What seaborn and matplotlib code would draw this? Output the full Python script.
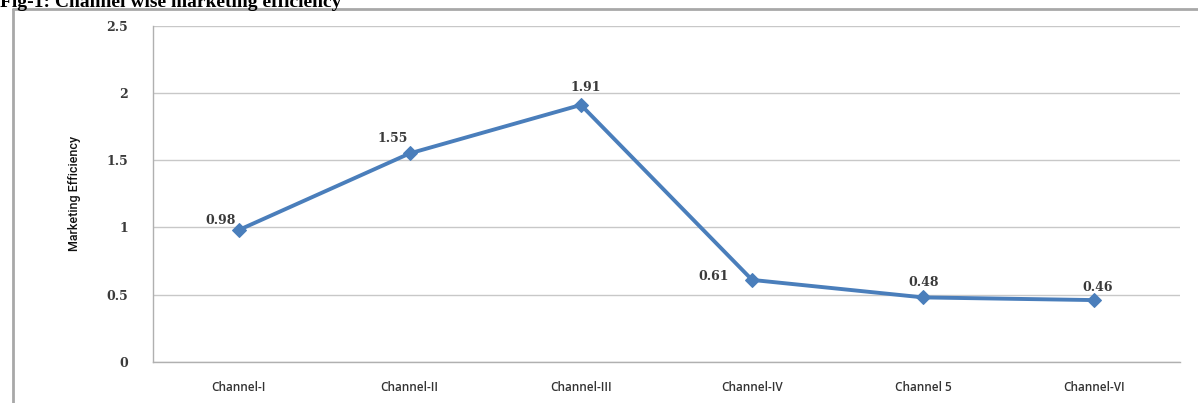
import matplotlib
matplotlib.use("Agg")
import matplotlib.pyplot as plt
from matplotlib.lines import Line2D
import seaborn as sns
import pandas as pd

# Channel-wise marketing efficiency
channels = ["Channel-I", "Channel-II", "Channel-III", "Channel-IV", "Channel 5", "Channel-VI"]
efficiency = [0.98, 1.55, 1.91, 0.61, 0.48, 0.46]
value_labels = ["0.98", "1.55", "1.91", "0.61", "0.48", "0.46"]
y_ticks = [0, 0.5, 1, 1.5, 2, 2.5]
y_tick_labels = ["0", "0.5", "1", "1.5", "2", "2.5"]

df = pd.DataFrame({"Channel": channels, "Efficiency": efficiency})

sns.set_theme(style="white")
plt.rcParams["font.family"] = ["DejaVu Sans"]

fig = plt.figure(figsize=(11.98, 4.03), dpi=100)
ax = fig.add_axes([0.1277, 0.1017, 0.8573, 0.835])

sns.lineplot(data=df, x="Channel", y="Efficiency", ax=ax, color="#4A7EBB",
             linewidth=2.8, marker="D", markersize=7, markeredgecolor="#4A7EBB",
             sort=False)

ax.set_ylim(0, 2.5)
ax.set_xlim(-0.5, 5.5)
ax.set_yticks(y_ticks)
ax.set_yticklabels(y_tick_labels, family="DejaVu Serif", fontsize=9, color="#3a3a3a",
                   fontweight="semibold")
ax.set_xticks(range(len(channels)))
ax.set_xticklabels(channels, family="Open Sans", fontsize=8.5, color="#333333",
                   fontweight="semibold")
ax.tick_params(axis="y", pad=18, length=0)
ax.tick_params(axis="x", pad=14, length=0)

ax.yaxis.grid(True, color="#c8c8c8", linewidth=1.0)
ax.set_axisbelow(True)
for side in ["top", "right"]:
    ax.spines[side].set_visible(False)
for side in ["left", "bottom"]:
    ax.spines[side].set_color("#b0b0b0")
    ax.spines[side].set_linewidth(1.0)

ax.set_xlabel("")
ax.set_ylabel("Marketing Efficiency", family="Roboto", fontsize=9,
              fontweight="medium", color="#111111", labelpad=18)

# value labels next to each point, offsets in pixels
offsets = [(-18, 10), (-17, 15), (5, 17), (-38, 3), (0, 15), (3, 13)]
for i, (v, lab) in enumerate(zip(efficiency, value_labels)):
    dx, dy = offsets[i]
    ax.annotate(lab, (i, v), xytext=(dx, dy), textcoords="offset pixels",
                ha="center", va="center", family="DejaVu Serif", fontsize=9,
                fontweight="semibold", color="#3a3a3a")

# surrounding frame
fig.add_artist(Line2D([12.5 / 1198, 12.5 / 1198], [0, 1 - 9 / 403],
                      transform=fig.transFigure, color="#a8a8a8", linewidth=2))
fig.add_artist(Line2D([12.5 / 1198, 1], [1 - 9 / 403, 1 - 9 / 403],
                      transform=fig.transFigure, color="#a8a8a8", linewidth=2))

fig.text(0.0, 1 - 7 / 403, "Fig-1: Channel wise marketing efficiency",
         family="Liberation Serif", fontweight="bold", fontsize=14,
         ha="left", va="baseline", color="black")

fig.savefig("out.png", dpi=100, facecolor="white")
